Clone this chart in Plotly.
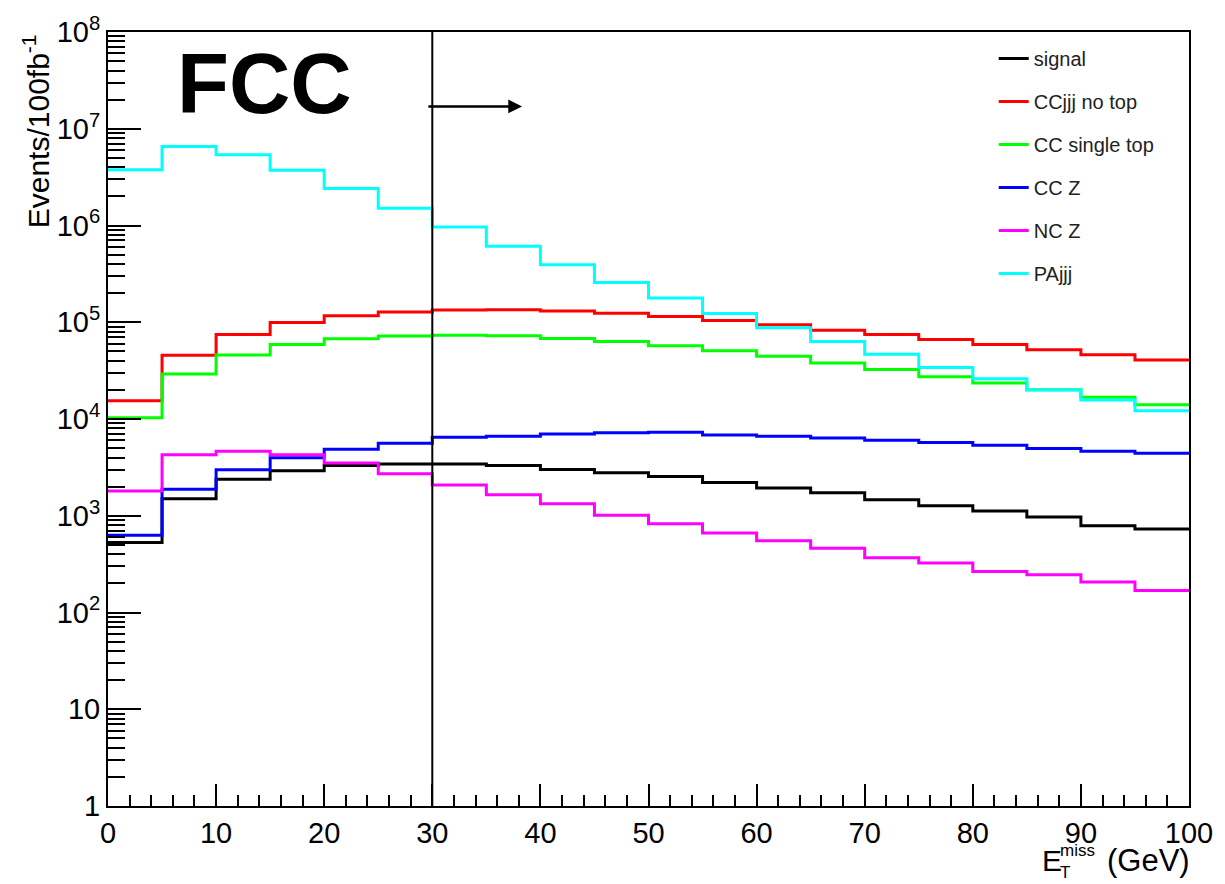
import numpy as np
import plotly.graph_objects as go

# Missing transverse energy binning (GeV), 5 GeV bins
bin_edges = list(range(0, 105, 5))

# Events / 100 fb^-1 per bin
signal = [530, 1500, 2380, 2920, 3310, 3420, 3420, 3310, 3010, 2790,
          2550, 2210, 1940, 1730, 1460, 1270, 1120, 970, 790, 730]
ccjjj_no_top = [15400, 45500, 74800, 99300, 117000, 128000, 134000, 135000, 131000, 124000,
                115000, 104000, 94000, 82800, 74800, 66500, 59000, 52000, 46200, 40700]
cc_single_top = [10300, 29200, 45800, 59000, 67400, 71900, 73600, 72400, 68100, 63400,
                 57100, 50700, 44400, 37900, 32400, 27400, 23600, 20100, 16800, 14000]
cc_z = [627, 1875, 2990, 3970, 4870, 5610, 6470, 6620, 7000, 7230,
        7280, 6840, 6620, 6370, 6030, 5700, 5350, 4950, 4650, 4430]
nc_z = [1800, 4270, 4650, 4270, 3500, 2720, 2080, 1650, 1330, 1010,
        826, 662, 552, 461, 369, 325, 265, 245, 207, 169]
pajjj = [3.77e6, 6.56e6, 5.38e6, 3.72e6, 2.41e6, 1.51e6, 9.64e5, 6.10e5, 3.92e5, 2.58e5,
         1.78e5, 1.23e5, 8.75e4, 6.34e4, 4.66e4, 3.40e4, 2.60e4, 1.99e4, 1.57e4, 1.22e4]

series_names = ["signal", "CCjjj no top", "CC single top", "CC Z", "NC Z", "PAjjj"]
series_values = [signal, ccjjj_no_top, cc_single_top, cc_z, nc_z, pajjj]
series_colors = ["#000000", "#ff0000", "#00ff00", "#0000ff", "#ff00ff", "#00ffff"]

# Cut on missing E_T and the direction of the selection
CUT = 30
ARROW_END = 38.3
ARROW_LEVEL = 1.70e7

y_tick_vals = [1, 10, 1e2, 1e3, 1e4, 1e5, 1e6, 1e7, 1e8]
y_tick_text = ["1", "10", "10<sup>2</sup>", "10<sup>3</sup>", "10<sup>4</sup>",
               "10<sup>5</sup>", "10<sup>6</sup>", "10<sup>7</sup>", "10<sup>8</sup>"]
y_minor_vals = [k * 10.0 ** n for n in range(8) for k in range(2, 10)]

FONT = "Liberation Sans, Arial, Helvetica, sans-serif"

# plot-area geometry in pixels
W, H = 1225, 884
L, R, T, B = 108, 32, 28, 78
PW, PH = W - L - R, H - T - B


def px(xp):
    return (xp - L) / PW


def py(yp):
    return (H - B - yp) / PH


fig = go.Figure()

for name, vals, col in zip(series_names, series_values, series_colors):
    fig.add_trace(go.Scatter(
        x=bin_edges,
        y=list(vals) + [vals[-1]],
        mode="lines",
        line=dict(shape="hv", color=col, width=3),
        name=name,
        legendgroup=name,
        hoverinfo="skip",
    ))

# selection cut line
fig.add_shape(type="line", x0=CUT, x1=CUT, y0=0, y1=1, xref="x", yref="paper",
              line=dict(color="black", width=2), layer="above")

# selection arrow
fig.add_annotation(x=ARROW_END, y=np.log10(ARROW_LEVEL), xref="x", yref="y",
                   ax=CUT - 0.5, ay=np.log10(ARROW_LEVEL), axref="x", ayref="y",
                   showarrow=True, arrowhead=2, arrowsize=1.1, arrowwidth=2.5,
                   arrowcolor="black", text="")

# experiment label
fig.add_annotation(x=px(175), y=py(80), xref="paper", yref="paper",
                   xanchor="left", yanchor="middle", showarrow=False,
                   text="<b>FCC</b>", font=dict(family=FONT, size=85, color="black"))

# y-axis title, aligned to the top of the axis
fig.add_annotation(x=px(36), y=py(28), xref="paper", yref="paper",
                   xanchor="center", yanchor="top", showarrow=False, textangle=-90,
                   text="Events/100fb<sup>-1</sup>",
                   font=dict(family=FONT, size=30, color="black"))

# x-axis title: E_T^miss (GeV)
fig.add_annotation(x=px(1196), y=py(861), xref="paper", yref="paper",
                   xanchor="right", yanchor="middle", showarrow=False,
                   text="(GeV)", font=dict(family=FONT, size=31, color="black"))
fig.add_annotation(x=px(1043), y=py(861), xref="paper", yref="paper",
                   xanchor="left", yanchor="middle", showarrow=False,
                   text="E", font=dict(family=FONT, size=30, color="black"))
fig.add_annotation(x=px(1062), y=py(851), xref="paper", yref="paper",
                   xanchor="left", yanchor="middle", showarrow=False,
                   text="miss", font=dict(family=FONT, size=17, color="black"))
fig.add_annotation(x=px(1062), y=py(884), xref="paper", yref="paper",
                   xanchor="left", yanchor="bottom", showarrow=False,
                   text="T", font=dict(family=FONT, size=17, color="black"))

fig.update_layout(
    width=W, height=H,
    margin=dict(l=L, r=R, t=T, b=B, pad=0),
    paper_bgcolor="white", plot_bgcolor="white",
    font=dict(family=FONT, color="black"),
    showlegend=True,
    legend=dict(
        x=px(997), y=py(35), xanchor="left", yanchor="top",
        bgcolor="rgba(0,0,0,0)", borderwidth=0,
        font=dict(family=FONT, size=20, color="#222222"),
        tracegroupgap=14, traceorder="grouped", itemwidth=30,
    ),
    xaxis=dict(
        range=[0, 100], showgrid=False, zeroline=False,
        showline=True, linecolor="black", linewidth=2, mirror=True,
        ticks="inside", ticklen=22, tickwidth=1.5, tickcolor="black",
        tickmode="linear", tick0=0, dtick=10,
        tickfont=dict(family=FONT, size=29, color="black"),
        minor=dict(ticks="inside", ticklen=11, tickwidth=1.5, tickcolor="black",
                   dtick=2, tick0=0, showgrid=False),
    ),
    yaxis=dict(
        type="log", range=[0, 8], showgrid=False, zeroline=False,
        showline=True, linecolor="black", linewidth=2, mirror=True,
        ticks="inside", ticklen=33, tickwidth=1.5, tickcolor="black",
        tickmode="array", tickvals=y_tick_vals, ticktext=y_tick_text,
        tickfont=dict(family=FONT, size=29, color="black"),
        minor=dict(ticks="inside", ticklen=17, tickwidth=1.5, tickcolor="black",
                   tickmode="array", tickvals=y_minor_vals, showgrid=False),
    ),
)

fig.write_html("out.html")
